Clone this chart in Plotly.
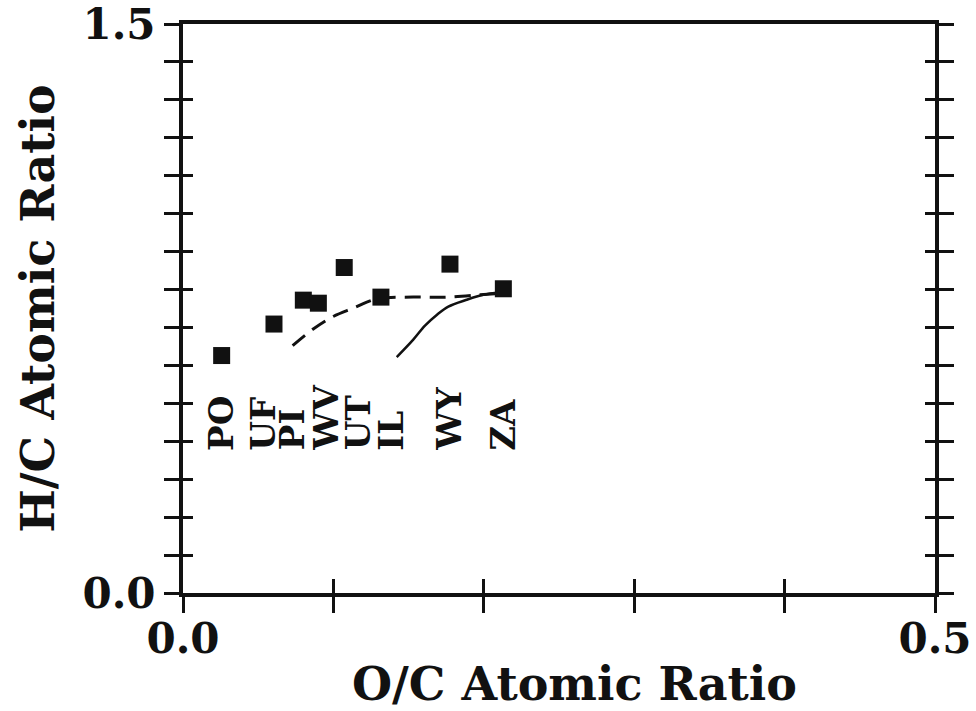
import plotly.graph_objects as go

# Data
coal_names = ["PO", "UF", "PI", "WV", "UT", "IL", "WY", "ZA"]
oc_ratio = [0.0257, 0.0605, 0.080, 0.090, 0.1072, 0.1316, 0.1775, 0.2130]
hc_ratio = [0.626, 0.709, 0.772, 0.764, 0.858, 0.780, 0.867, 0.802]

# label anchor positions along O/C axis and H/C level of the label base
label_oc = [0.0251, 0.0532, 0.0725, 0.0951, 0.1164, 0.1383, 0.1769, 0.2128]
label_hc = 0.37

dashed_oc = [0.0729, 0.0866, 0.0999, 0.1132, 0.1288, 0.1531, 0.1753, 0.1975, 0.2130]
dashed_hc = [0.652, 0.696, 0.729, 0.751, 0.775, 0.780, 0.780, 0.786, 0.791]

solid_oc = [0.1421, 0.1531, 0.1609, 0.1687, 0.1764, 0.1886, 0.1997, 0.2108]
solid_hc = [0.622, 0.668, 0.705, 0.733, 0.755, 0.773, 0.786, 0.792]

x_ticks = [0.0, 0.1, 0.2, 0.3, 0.4, 0.5]
x_ticktext = ["0.0", "", "", "", "", "0.5"]
y_ticks = [i / 10 for i in range(16)]
y_ticktext = ["0.0"] + [""] * 14 + ["1.5"]

FONT = "DejaVu Serif"
BLACK = "#111111"

fig = go.Figure()

fig.add_trace(go.Scatter(x=dashed_oc, y=dashed_hc, mode="lines",
                         line=dict(color=BLACK, width=3, dash="16px,9px", shape="spline"),
                         showlegend=False, hoverinfo="skip"))
fig.add_trace(go.Scatter(x=solid_oc, y=solid_hc, mode="lines",
                         line=dict(color=BLACK, width=2.5, shape="spline"),
                         showlegend=False, hoverinfo="skip"))
fig.add_trace(go.Scatter(x=oc_ratio, y=hc_ratio, mode="markers",
                         marker=dict(symbol="square", size=17, color=BLACK),
                         text=coal_names, showlegend=False))

# invisible trace on overlay axes so they render
fig.add_trace(go.Scatter(x=[0], y=[0], xaxis="x2", yaxis="y2", mode="markers",
                         marker=dict(opacity=0), showlegend=False, hoverinfo="skip"))

for name, xv in zip(coal_names, label_oc):
    fig.add_annotation(x=xv, y=label_hc, text="<b>" + name + "</b>", textangle=-90,
                       xanchor="center", yanchor="bottom", showarrow=False,
                       font=dict(family=FONT, size=34, color=BLACK))

tickfont = dict(family=FONT, size=42, color=BLACK, weight="bold")
titlefont = dict(family=FONT, size=46, color=BLACK, weight="bold")

# x-axis title placed as annotation (slightly right of centre as in reference)
fig.add_annotation(xref="paper", yref="paper", x=0.52, y=0, yshift=-91,
                   text="O/C Atomic Ratio", showarrow=False,
                   xanchor="center", yanchor="middle", font=titlefont)

fig.update_layout(
    width=976, height=711,
    margin=dict(l=183, r=41, t=24, b=118),
    paper_bgcolor="white", plot_bgcolor="white",
    xaxis=dict(range=[0, 0.5], tickvals=x_ticks, ticktext=x_ticktext,
               ticks="outside", ticklen=16, tickwidth=2.5, tickcolor=BLACK,
               showline=True, linewidth=4, linecolor=BLACK, mirror=True,
               showgrid=False, zeroline=False, automargin=False,
               ticklabelstandoff=-10, ticklabeloverflow="allow",
               tickfont=tickfont),
    yaxis=dict(range=[0, 1.5], tickvals=y_ticks, ticktext=y_ticktext,
               ticks="outside", ticklen=15, tickwidth=2.5, tickcolor=BLACK,
               showline=True, linewidth=4, linecolor=BLACK, mirror="ticks",
               showgrid=False, zeroline=False, automargin=False,
               ticklabeloverflow="allow",
               tickfont=tickfont,
               title=dict(text="H/C Atomic Ratio", standoff=14, font=titlefont)),
    xaxis2=dict(range=[0, 0.5], overlaying="x", side="bottom", anchor="y2",
                tickvals=x_ticks, ticks="inside", ticklen=14, tickwidth=2.5,
                tickcolor=BLACK, showticklabels=False, showgrid=False,
                zeroline=False, showline=False, automargin=False),
    yaxis2=dict(range=[0, 1.5], overlaying="y", side="left", anchor="x2",
                tickvals=y_ticks, ticks="inside", ticklen=10, tickwidth=2.5,
                tickcolor=BLACK, showticklabels=False, showgrid=False,
                zeroline=False, showline=True, linewidth=4, linecolor=BLACK,
                mirror="ticks", automargin=False),
)

fig.write_html("out.html")
